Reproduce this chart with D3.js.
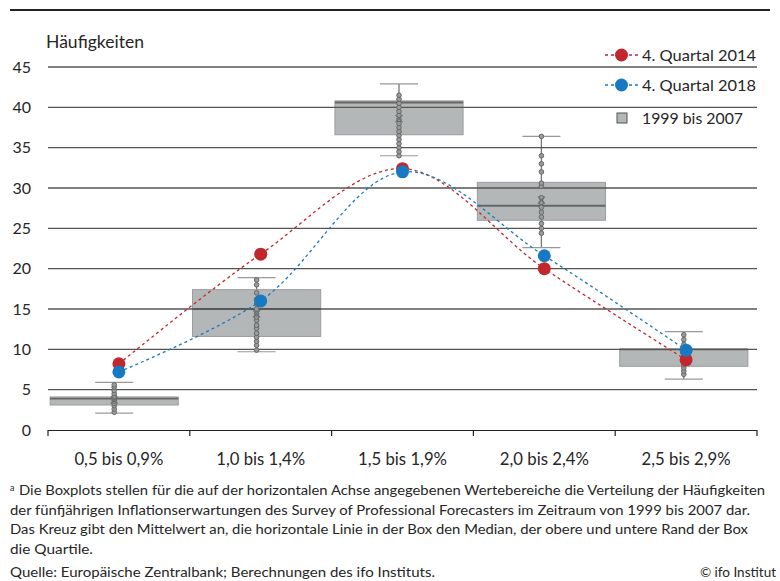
<!DOCTYPE html>
<html>
<head>
<meta charset="utf-8">
<script src="https://cdn.jsdelivr.net/npm/d3@7"></script>
<style>
  body { margin: 0; background: #fff; }
  svg text { font-family: "Source Sans Pro", Lato, "Open Sans", sans-serif; fill: #262626; }
</style>
</head>
<body>
<svg id="chart" width="780" height="581"></svg>
<script>
// Inflation-expectation ranges (categories on the x axis)
const categories = ["0,5 bis 0,9%", "1,0 bis 1,4%", "1,5 bis 1,9%", "2,0 bis 2,4%", "2,5 bis 2,9%"];
const yTicks = [0, 5, 10, 15, 20, 25, 30, 35, 40, 45];

// Survey rounds shown as lines
const q4_2014 = [8.2, 21.8, 32.4, 20.0, 8.7];
const q4_2018 = [7.2, 16.0, 32.0, 21.6, 9.9];

// Box plot statistics 1999 bis 2007
const boxLow    = [2.1, 9.7, 34.0, 22.6, 6.3];
const boxQ1     = [3.1, 11.6, 36.6, 26.0, 7.9];
const boxMedian = [3.9, 15.0, 40.6, 27.8, 10.0];
const boxQ3     = [4.1, 17.4, 40.8, 30.7, 10.0];
const boxHigh   = [5.9, 18.9, 42.9, 36.4, 12.2];
const boxMean   = [3.7, 14.4, 38.6, 28.5, 9.1];

// Individual observations 1999 bis 2007
const obs0 = [2.2, 2.6, 3.0, 3.3, 3.6, 3.8, 4.0, 4.2, 4.5, 4.9, 5.3, 5.6];
const obs1 = [9.9, 10.5, 11.0, 11.5, 12.0, 12.6, 13.0, 13.6, 14.0, 14.4, 15.0, 15.6, 16.2, 17.0, 18.0, 18.6];
const obs2 = [34.0, 34.5, 35.0, 35.5, 36.0, 36.5, 37.0, 37.5, 38.0, 38.5, 39.0, 39.5, 40.0, 40.5, 41.0, 41.5];
const obs3 = [24.4, 25.0, 25.6, 26.4, 27.0, 27.6, 28.2, 28.8, 30.2, 30.6, 32.0, 33.0, 34.0, 36.4];
const obs4 = [6.9, 7.3, 7.7, 8.1, 8.6, 9.0, 9.5, 10.0, 10.6, 11.2, 11.8];
const observations = [obs0, obs1, obs2, obs3, obs4];

const footnoteLines = [
  "Die Boxplots stellen für die auf der horizontalen Achse angegebenen Wertebereiche die Verteilung der Häufigkeiten",
  "der fünfjährigen Inflationserwartungen des Survey of Professional Forecasters im Zeitraum von 1999 bis 2007 dar.",
  "Das Kreuz gibt den Mittelwert an, die horizontale Linie in der Box den Median, der obere und untere Rand der Box",
  "die Quartile."
];
const footnoteWidths = [746, 740, 738, 83];
const sourceText = "Quelle: Europäische Zentralbank; Berechnungen des ifo Instituts.";
const creditText = "© ifo Institut";

const RED = "#c1272d", BLUE = "#1779c2";

const svg = d3.select("#chart");

// top rule
svg.append("line").attr("x1", 10).attr("x2", 770).attr("y1", 10).attr("y2", 10)
  .attr("stroke", "#222").attr("stroke-width", 2);

const x = d3.scaleBand().domain(categories).range([48, 757]);
const xBox = d3.scaleBand().domain(categories).range([43, 755]).paddingInner(0.1).paddingOuter(0.05);
const y = d3.scaleLinear().domain([0, 45]).range([430, 67]);

// title
svg.append("text").attr("x", 46).attr("y", 48).attr("font-size", 16.5)
  .attr("textLength", 98).attr("lengthAdjust", "spacingAndGlyphs").text("Häufigkeiten");

// boxes
const boxG = svg.append("g");
categories.forEach((c, i) => {
  const cx = xBox(c) + xBox.bandwidth() / 2;
  // whisker
  boxG.append("line").attr("x1", cx).attr("x2", cx)
    .attr("y1", y(boxHigh[i])).attr("y2", y(boxLow[i]))
    .attr("stroke", "#777").attr("stroke-width", 1.3);
  // caps
  [boxHigh[i], boxLow[i]].forEach(v => {
    boxG.append("line").attr("x1", cx - 19).attr("x2", cx + 19)
      .attr("y1", y(v)).attr("y2", y(v)).attr("stroke", "#999").attr("stroke-width", 1.2);
  });
  boxG.append("rect")
    .attr("x", xBox(c)).attr("width", xBox.bandwidth())
    .attr("y", y(boxQ3[i])).attr("height", y(boxQ1[i]) - y(boxQ3[i]))
    .attr("fill", "#b4b7b7").attr("stroke", "#9a9d9d").attr("stroke-width", 1);
  boxG.append("line").attr("x1", xBox(c)).attr("x2", xBox(c) + xBox.bandwidth())
    .attr("y1", y(boxMedian[i])).attr("y2", y(boxMedian[i]))
    .attr("stroke", "#666").attr("stroke-width", 1.8);
});

// grid lines
svg.append("g").selectAll("line").data(yTicks.filter(d => d > 0)).join("line")
  .attr("x1", 48).attr("x2", 757)
  .attr("y1", d => y(d)).attr("y2", d => y(d))
  .attr("stroke", "#555").attr("stroke-width", 1.4);

// y tick labels
svg.append("g").selectAll("text").data(yTicks).join("text")
  .attr("x", 31).attr("y", d => y(d) + 5.5).attr("text-anchor", "end")
  .attr("font-size", 16).text(d => d);

// observations and means
categories.forEach((c, i) => {
  const cx = xBox(c) + xBox.bandwidth() / 2;
  svg.append("g").selectAll("circle").data(observations[i]).join("circle")
    .attr("cx", cx).attr("cy", d => y(d)).attr("r", 2.3)
    .attr("fill", "#9a9d9d").attr("stroke", "#666").attr("stroke-width", 1);
  const my = y(boxMean[i]);
  svg.append("path")
    .attr("d", `M${cx - 3.5},${my - 3.5}L${cx + 3.5},${my + 3.5}M${cx - 3.5},${my + 3.5}L${cx + 3.5},${my - 3.5}`)
    .attr("stroke", "#6f7272").attr("stroke-width", 1.3);
});

// x axis
const xAxis = d3.axisBottom(x).tickSize(0).tickFormat(() => "");
const ax = svg.append("g").attr("transform", "translate(0,430.5)").call(xAxis);
ax.select(".domain").attr("stroke", "#222").attr("stroke-width", 1.2).attr("d", "M48,0H757");
const bounds = categories.map(c => x(c)).concat([x.range()[1]]);
svg.append("g").selectAll("line").data(bounds).join("line")
  .attr("x1", d => d).attr("x2", d => d).attr("y1", 430).attr("y2", 436)
  .attr("stroke", "#222").attr("stroke-width", 1.2);
svg.append("g").selectAll("text").data(categories).join("text")
  .attr("x", d => x(d) + x.bandwidth() / 2).attr("y", 465)
  .attr("text-anchor", "middle").attr("font-size", 16.5)
  .attr("textLength", 89).attr("lengthAdjust", "spacingAndGlyphs").text(d => d);

// survey lines
const line = d3.line()
  .x((d, i) => x(categories[i]) + x.bandwidth() / 2)
  .y(d => y(d))
  .curve(d3.curveCatmullRom.alpha(0.5));

[[q4_2014, RED], [q4_2018, BLUE]].forEach(([vals, col]) => {
  svg.append("path").datum(vals).attr("d", line)
    .attr("fill", "none").attr("stroke", col).attr("stroke-width", 1.3)
    .attr("stroke-dasharray", "3,3");
});
[[q4_2014, RED], [q4_2018, BLUE]].forEach(([vals, col]) => {
  svg.append("g").selectAll("circle").data(vals).join("circle")
    .attr("cx", (d, i) => x(categories[i]) + x.bandwidth() / 2)
    .attr("cy", d => y(d)).attr("r", 6.5).attr("fill", col);
});

// legend
const leg = svg.append("g");
[["4. Quartal 2014", RED, 55], ["4. Quartal 2018", BLUE, 85]].forEach(([label, col, ly]) => {
  leg.append("line").attr("x1", 605).attr("x2", 640).attr("y1", ly).attr("y2", ly)
    .attr("stroke", col).attr("stroke-width", 1.3).attr("stroke-dasharray", "3,3");
  leg.append("circle").attr("cx", 621.5).attr("cy", ly).attr("r", 6.5).attr("fill", col);
  leg.append("text").attr("x", 642).attr("y", ly + 5.5).attr("font-size", 16)
    .attr("textLength", 114).attr("lengthAdjust", "spacingAndGlyphs").text(label);
});
leg.append("rect").attr("x", 617).attr("y", 113).attr("width", 10).attr("height", 10)
  .attr("fill", "#b4b7b7").attr("stroke", "#555").attr("stroke-width", 1);
leg.append("text").attr("x", 642).attr("y", 123.5).attr("font-size", 16)
  .attr("textLength", 101).attr("lengthAdjust", "spacingAndGlyphs").text("1999 bis 2007");

// footnote
const fn = svg.append("g");
footnoteLines.forEach((t, i) => {
  const ty = 495 + i * 19.5;
  const txt = fn.append("text").attr("x", 10).attr("y", ty).attr("font-size", 13.5);
  if (i === 0) {
    fn.append("text").attr("x", 10).attr("y", ty - 4).attr("font-size", 9).text("a");
    txt.attr("x", 19);
  }
  txt.text(t).attr("textLength", footnoteWidths[i]).attr("lengthAdjust", "spacingAndGlyphs");
});
fn.append("text").attr("x", 10).attr("y", 577).attr("font-size", 13.5)
  .attr("textLength", 425).attr("lengthAdjust", "spacingAndGlyphs").text(sourceText);
fn.append("text").attr("x", 776).attr("y", 577).attr("font-size", 13.5)
  .attr("text-anchor", "end").text(creditText);
</script>
</body>
</html>
